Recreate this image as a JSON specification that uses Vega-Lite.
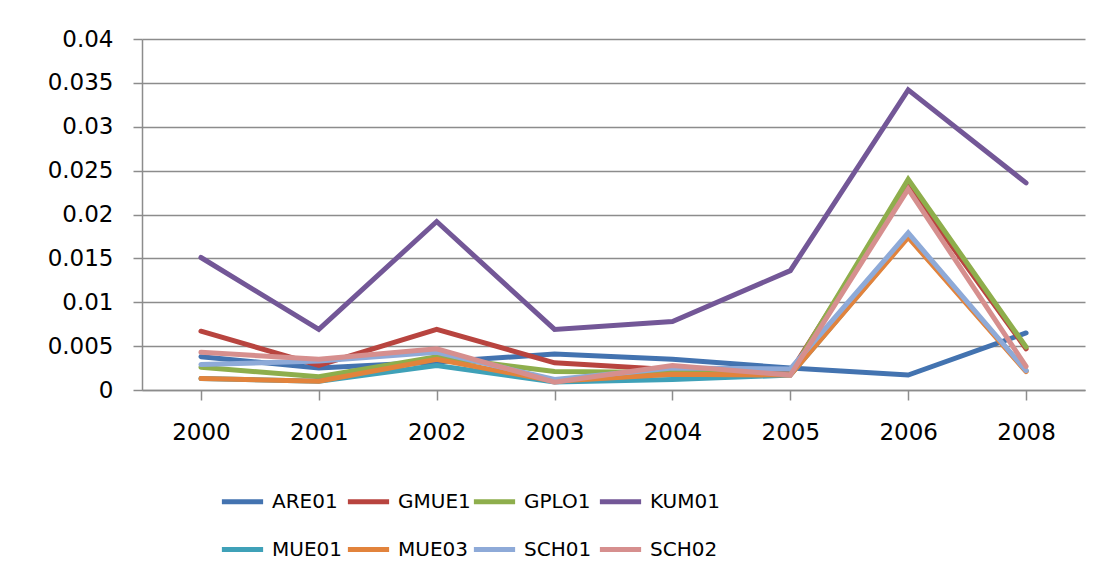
{
  "$schema": "https://vega.github.io/schema/vega-lite/v6.json",
  "width": 943,
  "height": 351,
  "autosize": {"type": "none"},
  "padding": {"left": 142, "top": 39, "right": 25, "bottom": 191},
  "background": "white",
  "config": {
    "font": "DejaVu Sans",
    "view": {"stroke": null}
  },
  "data": {
    "values": [
      {"year": "2000", "site": "ARE01", "v": 0.0038},
      {"year": "2001", "site": "ARE01", "v": 0.0025},
      {"year": "2002", "site": "ARE01", "v": 0.0032},
      {"year": "2003", "site": "ARE01", "v": 0.0041},
      {"year": "2004", "site": "ARE01", "v": 0.0035},
      {"year": "2005", "site": "ARE01", "v": 0.0025},
      {"year": "2006", "site": "ARE01", "v": 0.0017},
      {"year": "2008", "site": "ARE01", "v": 0.0065},
      {"year": "2000", "site": "GMUE1", "v": 0.0067},
      {"year": "2001", "site": "GMUE1", "v": 0.0028},
      {"year": "2002", "site": "GMUE1", "v": 0.0069},
      {"year": "2003", "site": "GMUE1", "v": 0.0031},
      {"year": "2004", "site": "GMUE1", "v": 0.0023},
      {"year": "2005", "site": "GMUE1", "v": 0.002},
      {"year": "2006", "site": "GMUE1", "v": 0.0233},
      {"year": "2008", "site": "GMUE1", "v": 0.0047},
      {"year": "2000", "site": "GPLO1", "v": 0.0026},
      {"year": "2001", "site": "GPLO1", "v": 0.0015},
      {"year": "2002", "site": "GPLO1", "v": 0.0038},
      {"year": "2003", "site": "GPLO1", "v": 0.0021},
      {"year": "2004", "site": "GPLO1", "v": 0.002},
      {"year": "2005", "site": "GPLO1", "v": 0.0018},
      {"year": "2006", "site": "GPLO1", "v": 0.024},
      {"year": "2008", "site": "GPLO1", "v": 0.0049},
      {"year": "2000", "site": "KUM01", "v": 0.0151},
      {"year": "2001", "site": "KUM01", "v": 0.0069},
      {"year": "2002", "site": "KUM01", "v": 0.0192},
      {"year": "2003", "site": "KUM01", "v": 0.0069},
      {"year": "2004", "site": "KUM01", "v": 0.0078},
      {"year": "2005", "site": "KUM01", "v": 0.0136},
      {"year": "2006", "site": "KUM01", "v": 0.0342},
      {"year": "2008", "site": "KUM01", "v": 0.0236},
      {"year": "2000", "site": "MUE01", "v": 0.0013},
      {"year": "2001", "site": "MUE01", "v": 0.001},
      {"year": "2002", "site": "MUE01", "v": 0.0028},
      {"year": "2003", "site": "MUE01", "v": 0.0009},
      {"year": "2004", "site": "MUE01", "v": 0.0012},
      {"year": "2005", "site": "MUE01", "v": 0.0017},
      {"year": "2006", "site": "MUE01", "v": 0.0175},
      {"year": "2008", "site": "MUE01", "v": 0.0022},
      {"year": "2000", "site": "MUE03", "v": 0.0013},
      {"year": "2001", "site": "MUE03", "v": 0.001},
      {"year": "2002", "site": "MUE03", "v": 0.0035},
      {"year": "2003", "site": "MUE03", "v": 0.001},
      {"year": "2004", "site": "MUE03", "v": 0.0018},
      {"year": "2005", "site": "MUE03", "v": 0.0017},
      {"year": "2006", "site": "MUE03", "v": 0.0174},
      {"year": "2008", "site": "MUE03", "v": 0.0021},
      {"year": "2000", "site": "SCH01", "v": 0.0029},
      {"year": "2001", "site": "SCH01", "v": 0.0033},
      {"year": "2002", "site": "SCH01", "v": 0.0043},
      {"year": "2003", "site": "SCH01", "v": 0.0012},
      {"year": "2004", "site": "SCH01", "v": 0.0025},
      {"year": "2005", "site": "SCH01", "v": 0.0024},
      {"year": "2006", "site": "SCH01", "v": 0.0179},
      {"year": "2008", "site": "SCH01", "v": 0.0022},
      {"year": "2000", "site": "SCH02", "v": 0.0043},
      {"year": "2001", "site": "SCH02", "v": 0.0035},
      {"year": "2002", "site": "SCH02", "v": 0.0047},
      {"year": "2003", "site": "SCH02", "v": 0.0009},
      {"year": "2004", "site": "SCH02", "v": 0.0028},
      {"year": "2005", "site": "SCH02", "v": 0.0017},
      {"year": "2006", "site": "SCH02", "v": 0.0229},
      {"year": "2008", "site": "SCH02", "v": 0.0027}
    ]
  },
  "mark": {"type": "line", "strokeWidth": 5, "strokeCap": "round", "strokeJoin": "miter"},
  "encoding": {
    "x": {
      "field": "year",
      "type": "ordinal",
      "scale": {"paddingInner": 0, "paddingOuter": 0},
      "axis": {
        "title": null,
        "labelAngle": 0,
        "labelFontSize": 23,
        "labelColor": "#000000",
        "labelPadding": 21,
        "bandPosition": 0,
        "ticks": true,
        "tickSize": 10,
        "tickColor": "#8c8c8c",
        "tickWidth": 1.5,
        "domainColor": "#8c8c8c",
        "domainWidth": 1.5,
        "grid": false
      }
    },
    "y": {
      "field": "v",
      "type": "quantitative",
      "scale": {"domain": [0, 0.04], "nice": false},
      "axis": {
        "title": null,
        "values": [0, 0.005, 0.01, 0.015, 0.02, 0.025, 0.03, 0.035, 0.04],
        "format": "~g",
        "labelFontSize": 23,
        "labelColor": "#000000",
        "labelPadding": 20,
        "tickSize": 9,
        "tickColor": "#8c8c8c",
        "tickWidth": 1.5,
        "domainColor": "#8c8c8c",
        "domainWidth": 1.5,
        "grid": true,
        "gridColor": "#8c8c8c",
        "gridWidth": 1.5
      }
    },
    "color": {
      "field": "site",
      "type": "nominal",
      "scale": {
        "domain": ["ARE01", "GMUE1", "GPLO1", "KUM01", "MUE01", "MUE03", "SCH01", "SCH02"],
        "range": ["#4373b0", "#b8443f", "#8eae4c", "#735797", "#3fa1b8", "#e2833c", "#8eaad8", "#d68f8e"]
      },
      "legend": {
        "title": null,
        "orient": "none",
        "legendX": 77,
        "legendY": 439,
        "direction": "horizontal",
        "columns": 4,
        "symbolType": "stroke",
        "symbolSize": 1700,
        "symbolStrokeWidth": 5,
        "labelFontSize": 20,
        "labelColor": "#000000",
        "labelOffset": 6,
        "columnPadding": -11,
        "rowPadding": 14,
        "gridAlign": "all",
        "labelLimit": 200
      }
    }
  }
}
